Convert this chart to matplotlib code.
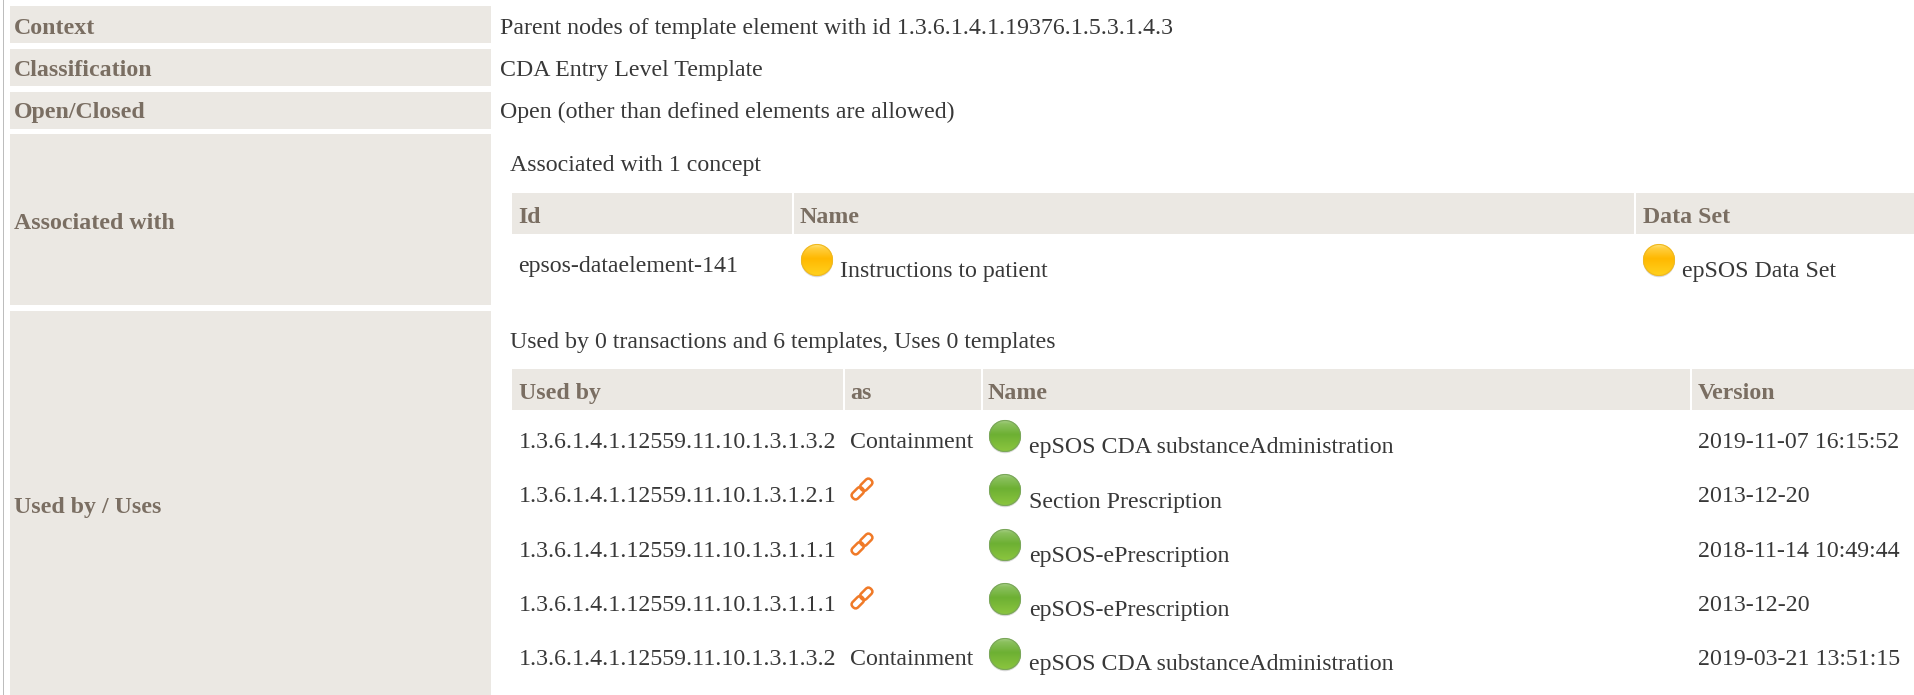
import numpy as np
import matplotlib
matplotlib.use("Agg")
import matplotlib.pyplot as plt
from matplotlib.patches import Rectangle, Circle, FancyBboxPatch
from matplotlib.transforms import Affine2D

plt.rcParams['font.family'] = ['Liberation Serif', 'DejaVu Serif']

side_labels = ["Context", "Classification", "Open/Closed", "Associated with", "Used by / Uses"]
side_values = ["Parent nodes of template element with id 1.3.6.1.4.1.19376.1.5.3.1.4.3",
               "CDA Entry Level Template",
               "Open (other than defined elements are allowed)"]
assoc_title = "Associated with 1 concept"
assoc_headers = ["Id", "Name", "Data Set"]
assoc_row = ["epsos-dataelement-141", "Instructions to patient", "epSOS Data Set"]
used_title = "Used by 0 transactions and 6 templates, Uses 0 templates"
used_headers = ["Used by", "as", "Name", "Version"]
used_ids = ["1.3.6.1.4.1.12559.11.10.1.3.1.3.2", "1.3.6.1.4.1.12559.11.10.1.3.1.2.1",
            "1.3.6.1.4.1.12559.11.10.1.3.1.1.1", "1.3.6.1.4.1.12559.11.10.1.3.1.1.1",
            "1.3.6.1.4.1.12559.11.10.1.3.1.3.2"]
used_as = ["Containment", "", "", "", "Containment"]
used_names = ["epSOS CDA substanceAdministration", "Section Prescription", "epSOS-ePrescription",
              "epSOS-ePrescription", "epSOS CDA substanceAdministration"]
used_versions = ["2019-11-07 16:15:52", "2013-12-20", "2018-11-14 10:49:44",
                 "2013-12-20", "2019-03-21 13:51:15"]

W, H = 1914, 695
BG = "#ebe8e3"; HEAD = "#7a6e62"; INK = "#383838"
FS = 17.2
DY = 0.7

fig = plt.figure(figsize=(W/100, H/100), dpi=100)
ax = fig.add_axes([0, 0, 1, 1])
ax.set_xlim(0, W); ax.set_ylim(H, 0); ax.axis("off")

def box(x0, x1, y0, y1):
    ax.add_patch(Rectangle((x0, y0), x1-x0, y1-y0, fc=BG, ec="none", zorder=1))

def label(x, y, s):
    ax.text(x, y + DY, s, fontsize=FS, fontweight="bold", color=HEAD, va="baseline", ha="left", zorder=3)

def txt(x, y, s):
    ax.text(x, y + DY, s, fontsize=FS, color=INK, va="baseline", ha="left", zorder=3)

def ball(cx, cy, top, mid, low, edge):
    r = 16
    n = 64
    c0, c1, c2, c3 = [np.array(matplotlib.colors.to_rgb(c)) for c in (top, mid, low, edge)]
    t = np.linspace(0, 1, n)
    img = np.zeros((n, 1, 3))
    for ch in range(3):
        img[:, 0, ch] = np.interp(t, [0, 0.12, 0.45, 1.0],
                                  [c0[ch], (c0[ch] + c1[ch]) / 2, c1[ch], c2[ch]])
    ax.add_patch(Circle((cx, cy + 1.2), r, fc="#d8d8d8", ec="none", zorder=2))
    im = ax.imshow(img, extent=(cx-r, cx+r, cy+r, cy-r), aspect="auto", zorder=3, interpolation="bilinear")
    im.set_clip_path(Circle((cx, cy), r, transform=ax.transData))
    ax.add_patch(Circle((cx, cy), r-0.5, fc="none", ec=c3, lw=0.8, zorder=4))

def green(cx, cy):
    ball(cx, cy, "#a8d088", "#6db033", "#8cc63f", "#7aa65a")

def yellow(cx, cy):
    ball(cx, cy, "#ffe680", "#ffb800", "#ffd21f", "#f0b820")

def link(cx, cy):
    for dx in (-6.0, 6.0):
        tr = Affine2D().translate(dx, 0).rotate_deg(-45).translate(cx, cy) + ax.transData
        ax.add_patch(FancyBboxPatch((-6.8, -3.8), 13.6, 7.6, boxstyle="round,pad=0,rounding_size=3.6",
                                    fc="none", ec="#f07a28", lw=1.8, transform=tr, zorder=4))

# page rule
ax.add_patch(Rectangle((3, 0), 1.2, H, fc="#bdbdbd", ec="none", zorder=1))

# left column
for y0, y1 in [(6, 43), (49, 86), (92, 129), (134, 305), (311, 695)]:
    box(10, 491, y0, y1)
for y, s in zip([33, 75, 117, 228, 512], side_labels):
    label(14, y, s)
for y, s in zip([33, 75, 117], side_values):
    txt(500, y, s)

# associated table
txt(510, 170, assoc_title)
for x0, x1 in [(512, 792), (794, 1634), (1636, 1914)]:
    box(x0, x1, 193, 234)
for x, s in zip([518, 800, 1643], assoc_headers):
    label(x, 222, s)
txt(518, 271, assoc_row[0])
yellow(817, 260); txt(840, 276, assoc_row[1])
yellow(1659, 260); txt(1682, 276, assoc_row[2])

# used-by table
txt(510, 347, used_title)
for x0, x1 in [(512, 843), (845, 981), (983, 1690), (1692, 1914)]:
    box(x0, x1, 369, 410)
for x, s in zip([519, 850, 987, 1698], used_headers):
    label(x, 398, s)

base_ids = [447, 501, 556, 610, 664]
base_names = [452, 507, 561, 615, 669]
ball_y = [436, 490, 545, 599, 654]
for i in range(len(used_ids)):
    txt(519, base_ids[i], used_ids[i])
    if used_as[i]:
        txt(850, base_ids[i], used_as[i])
    else:
        link(862, ball_y[i] - 1)
    green(1005, ball_y[i])
    txt(1029, base_names[i], used_names[i])
    txt(1698, base_ids[i], used_versions[i])

fig.savefig("out.png", dpi=100, facecolor="white")
